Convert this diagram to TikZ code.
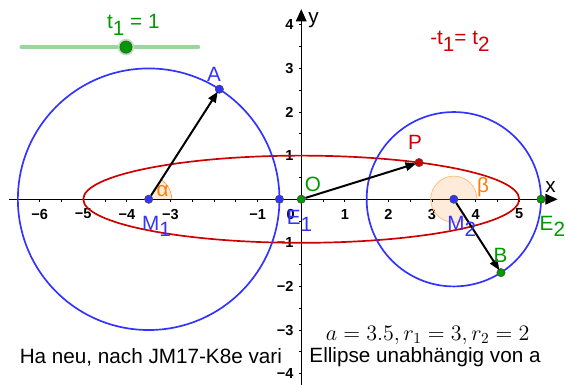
\documentclass[tikz,border=0pt]{standalone}
\usepackage{amsmath}
\usepackage{fontspec}
\setmainfont{Liberation Sans}
\usetikzlibrary{arrows.meta}

\definecolor{ggblue}{RGB}{51,51,255}
\definecolor{ggred}{RGB}{204,0,0}
\definecolor{gggreen}{RGB}{0,153,0}
\definecolor{ggorange}{RGB}{255,124,0}
\definecolor{ggslider}{RGB}{153,214,153}
\newcommand{\lowsub}[1]{\raisebox{-0.6ex}{#1}}

\begin{document}
\begin{tikzpicture}[x=1cm, y=1cm, every node/.style={font=\fontsize{13.5}{15}\selectfont},
  ticklab/.style={font=\fontsize{9.5}{10}\selectfont\bfseries, inner sep=0pt},
  ggpoint/.style={circle, inner sep=0pt, minimum size=5.4pt, draw=black!70, line width=0.4pt},
  vec/.style={black, line width=1.3pt, -{Triangle[length=7pt,width=5.5pt]}, shorten >=-1pt}]
  \useasboundingbox (-6.91,-4.26) rectangle (6.05,4.57);
  % axes
  \draw[line width=0.8pt, -{Triangle[length=8pt,width=7pt]}] (-6.70,0) -- (5.88,0);
  \draw[line width=0.8pt, -{Triangle[length=8pt,width=7pt]}] (0,-4.26) -- (0,4.36);
  \node at (5.72,0.28) {x};
  \node at (0.28,4.10) {y};
  \foreach \t in {-6.5,-6,...,5.5} \draw[line width=0.5pt] (\t,0) -- (\t,-0.06);
  \foreach \t in {-4,-3.5,...,4} \draw[line width=0.5pt] (0,\t) -- (-0.06,\t);
  \foreach \t in {-6,-5,-4,-3,-1,1,2,3,4,5} \node[ticklab] at (\t,-0.34) {\ifnum\t<0 −\the\numexpr-\t\relax\else\t\fi};
  \node[ticklab] at (-0.24,-0.34) {0};
  \foreach \t in {1,2,3,4} \node[ticklab, anchor=east] at (-0.17,\t) {\t};
  \foreach \t in {1,2,3,4} \node[ticklab, anchor=east] at (-0.17,-\t) {−\t};
  % curves
  \draw[ggred, line width=1.1pt] (0,0) ellipse (5 and 1);
  \draw[ggblue, line width=1.1pt] (-3.5,0) circle (3);
  \draw[ggblue, line width=1.1pt] (3.5,0) circle (2);
  % angles
  \fill[ggorange, fill opacity=0.15] (-3.5,0) -- (-2.97,0) arc (0:57.3:0.53) -- cycle;
  \draw[ggorange!70, line width=0.5pt] (-2.97,0) arc (0:57.3:0.53);
  \fill[ggorange, fill opacity=0.15] (3.5,0) -- (4.03,0) arc (0:302.7:0.53) -- cycle;
  \draw[ggorange!50, line width=0.5pt] (4.03,0) arc (0:302.7:0.53);
  \node[text=ggorange] at (-3.18,0.18) {α};
  \node[text=ggorange] at (4.17,0.28) {β};
  % points
  \node[ggpoint, fill=ggblue] (M1) at (-3.5,0) {};
  \node[ggpoint, fill=ggblue] (A) at (-1.879,2.524) {};
  \node[ggpoint, fill=ggblue] (M2) at (3.5,0) {};
  \node[ggpoint, fill=ggblue] (E1) at (-0.5,0) {};
  \node[ggpoint, fill=gggreen] (O) at (0,0) {};
  \node[ggpoint, fill=gggreen] (B) at (4.581,-1.683) {};
  \node[ggpoint, fill=gggreen] (E2) at (5.5,0) {};
  \node[ggpoint, fill=ggred] (P) at (2.702,0.841) {};
  % vectors
  \draw[vec] (M1) -- (A);
  \draw[vec] (O) -- (P);
  \draw[vec] (M2) -- (B);
  % point labels
  \node[text=ggblue] at (-2.00,2.86) {A};
  \node[text=ggblue] at (-3.32,-0.62) {M\lowsub{1}};
  \node[text=ggblue] at (3.68,-0.62) {M\lowsub{2}};
  \node[text=ggblue] at (-0.04,-0.50) {E\lowsub{1}};
  \node[text=gggreen] at (5.76,-0.62) {E\lowsub{2}};
  \node[text=gggreen] at (4.57,-1.28) {B};
  \node[text=gggreen] at (0.27,0.33) {O};
  \node[text=ggred] at (2.61,1.30) {P};
  % slider
  \draw[ggslider, line width=3pt, line cap=round] (-6.41,3.49) -- (-2.37,3.49);
  \fill[ggslider!70] (-4.02,3.49) circle (0.19);
  \node[ggpoint, fill=gggreen, minimum size=8pt] (knob) at (-4.02,3.49) {};
  \node[text=gggreen] at (-3.85,4.00) {t\lowsub{1} = 1};
  % texts
  \node[text=ggred] at (3.64,3.62) {-t\lowsub{1}= t\lowsub{2}};
  \node[font=\fontsize{14.5}{16}\selectfont] at (2.90,-3.13) {$a=3.5, r_1=3, r_2=2$};
  \node at (2.84,-3.62) {Ellipse unabhängig von a};
  \node at (-3.45,-3.62) {Ha neu, nach JM17-K8e vari};
\end{tikzpicture}
\end{document}
